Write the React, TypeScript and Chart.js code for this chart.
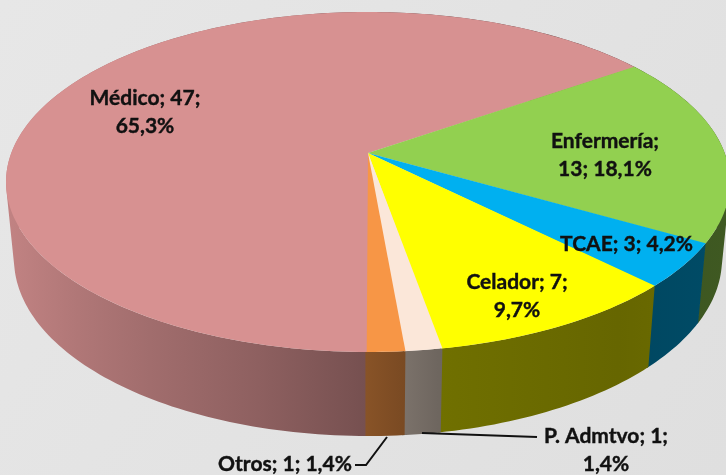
import React, { useEffect, useRef } from "react";
import { Chart, registerables } from "chart.js";

Chart.register(...registerables);

const categories = ["Médico", "Enfermería", "TCAE", "Celador", "P. Admtvo", "Otros"];
const values = [47, 13, 3, 7, 1, 1];
const colors = ["#D79191", "#92D050", "#00B0F0", "#FFFF00", "#FBE7D9", "#F79646"];

// label layout: centre x, first-line y, and where each line breaks
const labelLayout = [
  { lines: (c: string, v: number, p: string) => [`${c}; ${v};`, p], x: 145, y: 98 },
  { lines: (c: string, v: number, p: string) => [`${c};`, `${v}; ${p}`], x: 605, y: 141 },
  { lines: (c: string, v: number, p: string) => [`${c}; ${v}; ${p}`], x: 626.5, y: 244 },
  { lines: (c: string, v: number, p: string) => [`${c}; ${v};`, p], x: 517, y: 282 },
  { lines: (c: string, v: number, p: string) => [`${c}; ${v};`, p], x: 606, y: 436 },
  { lines: (c: string, v: number, p: string) => [`${c}; ${v}; ${p}`], x: 285, y: 464 },
];
const leaders = [
  [[422, 433], [537, 437]],
  [[387, 437], [366, 465], [355, 465]],
];

const topE = { cx: 368, cy: 182, rx: 362, ry: 170 };
const botE = { cx: 368, cy: 259, rx: 354, ry: 177 };
const tilt = -0.17;
const wallOverlap = 0.006;
const shadeStops = [
  [0, 0.9], [0.1, 0.82], [0.2, 0.75], [0.35, 0.66], [0.5, 0.55], [0.6, 0.44], [0.85, 0.4], [1, 0.43],
];

function project(a: number, e: typeof topE) {
  const u = Math.cos(a);
  const v = Math.sin(a);
  const d = 1 + tilt * v;
  return {
    x: e.cx + (e.rx * (u * Math.sqrt(1 - tilt * tilt))) / d,
    y: e.cy + (e.ry * (v + tilt)) / d,
  };
}

function arcPoints(a0: number, a1: number, e: typeof topE) {
  const n = Math.max(2, Math.ceil(Math.abs(a1 - a0) / 0.02));
  const pts = [];
  for (let i = 0; i <= n; i++) pts.push(project(a0 + ((a1 - a0) * i) / n, e));
  return pts;
}

function shade(hex: string, f: number) {
  const n = parseInt(hex.slice(1), 16);
  const r = Math.round(((n >> 16) & 255) * f);
  const g = Math.round(((n >> 8) & 255) * f);
  const b = Math.round((n & 255) * f);
  return `rgb(${r},${g},${b})`;
}

function signedArea(q: { x: number; y: number }[]) {
  let s = 0;
  q.forEach((p, i) => {
    const n = q[(i + 1) % q.length];
    s += p.x * n.y - n.x * p.y;
  });
  return s;
}

const pie3d = {
  id: "pie3d",
  beforeDraw(chart: any) {
    const { ctx, width, height } = chart;
    const g = ctx.createLinearGradient(0, 0, width, height);
    g.addColorStop(0, "#e7e7e7");
    g.addColorStop(1, "#dfdfdf");
    ctx.fillStyle = g;
    ctx.fillRect(0, 0, width, height);
  },
  beforeDatasetDraw() {
    return false;
  },
  afterDatasetsDraw(chart: any) {
    const { ctx } = chart;
    const arcs = chart.getDatasetMeta(0).data;
    // side walls: one path of same-oriented quads, so the rims' silhouette fills without seams
    arcs.forEach((arc: any, i: number) => {
      const startAngle = arc.startAngle;
      const endAngle = arc.endAngle + wallOverlap;
      const top = arcPoints(startAngle, endAngle, topE);
      const bot = arcPoints(startAngle, endAngle, botE);
      const g = ctx.createLinearGradient(6, 0, 726, 0);
      shadeStops.forEach(([p, f]) => g.addColorStop(p, shade(colors[i], f)));
      ctx.fillStyle = g;
      ctx.beginPath();
      for (let k = 0; k < top.length - 1; k++) {
        const q = [top[k], top[k + 1], bot[k + 1], bot[k]];
        if (signedArea(q) < 0) q.reverse();
        q.forEach((p, j) => (j ? ctx.lineTo(p.x, p.y) : ctx.moveTo(p.x, p.y)));
        ctx.closePath();
      }
      ctx.fill();
    });
    // top face
    const centre = { x: topE.cx, y: topE.cy + topE.ry * tilt };
    arcs.forEach((arc: any, i: number) => {
      const pts = arcPoints(arc.startAngle, arc.endAngle + wallOverlap / 2, topE);
      ctx.beginPath();
      ctx.moveTo(centre.x, centre.y);
      pts.forEach((p) => ctx.lineTo(p.x, p.y));
      ctx.closePath();
      ctx.fillStyle = colors[i];
      ctx.fill();
    });
    // leader lines
    ctx.strokeStyle = "#111";
    ctx.lineWidth = 2;
    leaders.forEach((line) => {
      ctx.beginPath();
      line.forEach(([x, y], k) => (k ? ctx.lineTo(x, y) : ctx.moveTo(x, y)));
      ctx.stroke();
    });
    // data labels
    const total = values.reduce((s, v) => s + v, 0);
    ctx.fillStyle = "#111";
    ctx.strokeStyle = "#111";
    ctx.lineWidth = 0.4;
    ctx.font = "bold 21px Lato";
    ctx.textAlign = "center";
    ctx.textBaseline = "middle";
    categories.forEach((c, i) => {
      const pct = ((values[i] / total) * 100).toFixed(1).replace(".", ",") + "%";
      const l = labelLayout[i];
      l.lines(c, values[i], pct).forEach((t: string, k: number) => {
        ctx.fillText(t, l.x, l.y + k * 28);
        ctx.strokeText(t, l.x, l.y + k * 28);
      });
    });
  },
};

export default function App() {
  const ref = useRef<HTMLCanvasElement>(null);
  useEffect(() => {
    const chart = new Chart(ref.current!, {
      type: "pie",
      data: {
        labels: categories,
        datasets: [{ data: values, backgroundColor: colors, borderWidth: 0 }],
      },
      options: {
        animation: false,
        responsive: false,
        rotation: 180,
        layout: { padding: 0 },
        plugins: { legend: { display: false }, tooltip: { enabled: false } },
      },
      plugins: [pie3d],
    } as any);
    return () => chart.destroy();
  }, []);
  return (
    <div style={{ position: "fixed", left: 0, top: 0, width: 726, height: 475, overflow: "hidden" }}>
      <canvas ref={ref} width={726} height={475} style={{ display: "block" }} />
    </div>
  );
}
